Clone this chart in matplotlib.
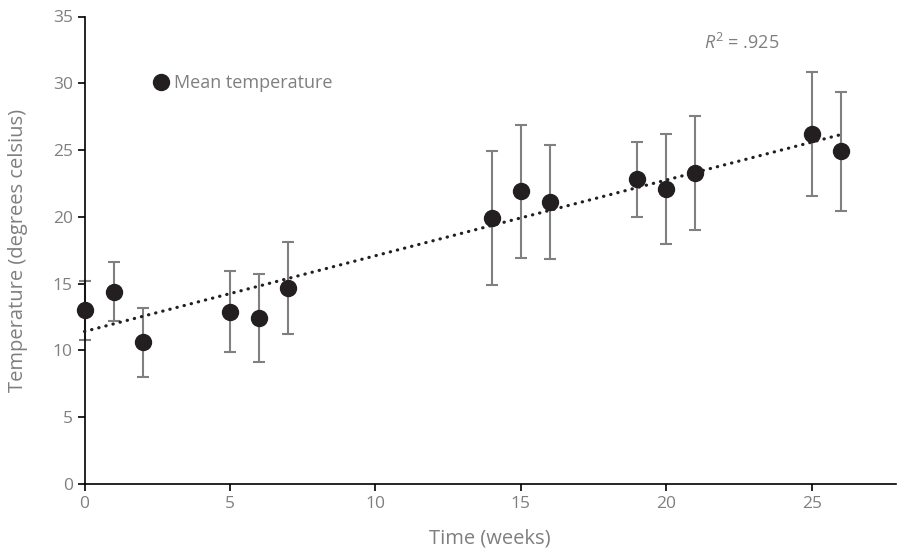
import numpy as np
import matplotlib
matplotlib.use("Agg")
import matplotlib.pyplot as plt

# Data
weeks = [0, 1, 2, 5, 6, 7, 14, 15, 16, 19, 20, 21, 25, 26]
mean_temp = [13.0, 14.4, 10.6, 12.9, 12.4, 14.7, 19.9, 21.9, 21.1, 22.8, 22.1, 23.3, 26.2, 24.9]
err = [2.2, 2.2, 2.6, 3.05, 3.3, 3.45, 5.0, 5.0, 4.25, 2.8, 4.1, 4.25, 4.65, 4.45]
x_ticks = [0, 5, 10, 15, 20, 25]
y_ticks = [0, 5, 10, 15, 20, 25, 30, 35]
r2_label = "$R^2$ = .925"

gray = "#7f7f7f"
dark = "#231f20"

plt.rcParams['font.family'] = ['Open Sans', 'DejaVu Sans']
plt.rcParams['mathtext.fontset'] = 'custom'
plt.rcParams['mathtext.it'] = 'Open Sans:italic'
plt.rcParams['mathtext.rm'] = 'Open Sans'

fig = plt.figure(figsize=(8.99, 5.49), dpi=100)
ax = fig.add_axes([84.5/899, 65/549, (896-84.5)/899, (484-16.5)/549])

eb = ax.errorbar(weeks, mean_temp, yerr=err, fmt='none', ecolor='#808080',
                 elinewidth=1.5, capsize=4, capthick=1.5, zorder=2)
for artist in eb.lines[1] + eb.lines[2]:
    artist.set_clip_on(False)
ax.plot(weeks, mean_temp, 'o', color=dark, markersize=11.5, zorder=3,
        label="Mean temperature", clip_on=False)

coef = np.polyfit(weeks, mean_temp, 1)
xt = np.array([0, 26])
ax.plot(xt, np.polyval(coef, xt), color=dark, lw=2.3,
        linestyle=(0, (0.1, 2.2)), dash_capstyle='round', zorder=4, clip_on=False)

ax.text(21.3, 33.0, r2_label, color=gray, fontsize=13, va='center', ha='left')

ax.set_xlim(0, 27.9)
ax.set_ylim(0, 35)
ax.set_xticks(x_ticks)
ax.set_yticks(y_ticks)
for s in ['top', 'right']:
    ax.spines[s].set_visible(False)
for s in ['left', 'bottom']:
    ax.spines[s].set_linewidth(1.2)
    ax.spines[s].set_color('black')
ax.tick_params(axis='both', direction='out', length=5, width=1.2, color='black',
               labelcolor=gray, labelsize=12.5)
ax.set_xlabel("Time (weeks)", color=gray, fontsize=14.5, labelpad=12)
ax.set_ylabel("Temperature (degrees celsius)", color=gray, fontsize=14.5, labelpad=18)

leg = ax.legend(loc='center left', bbox_to_anchor=(155/899, 1 - 83/549),
                bbox_transform=fig.transFigure, frameon=False, handlelength=0.7,
                handletextpad=0.35, borderpad=0, borderaxespad=0, fontsize=13,
                markerscale=1.0)
for t in leg.get_texts():
    t.set_color(gray)

fig.savefig("out.png", dpi=100)
